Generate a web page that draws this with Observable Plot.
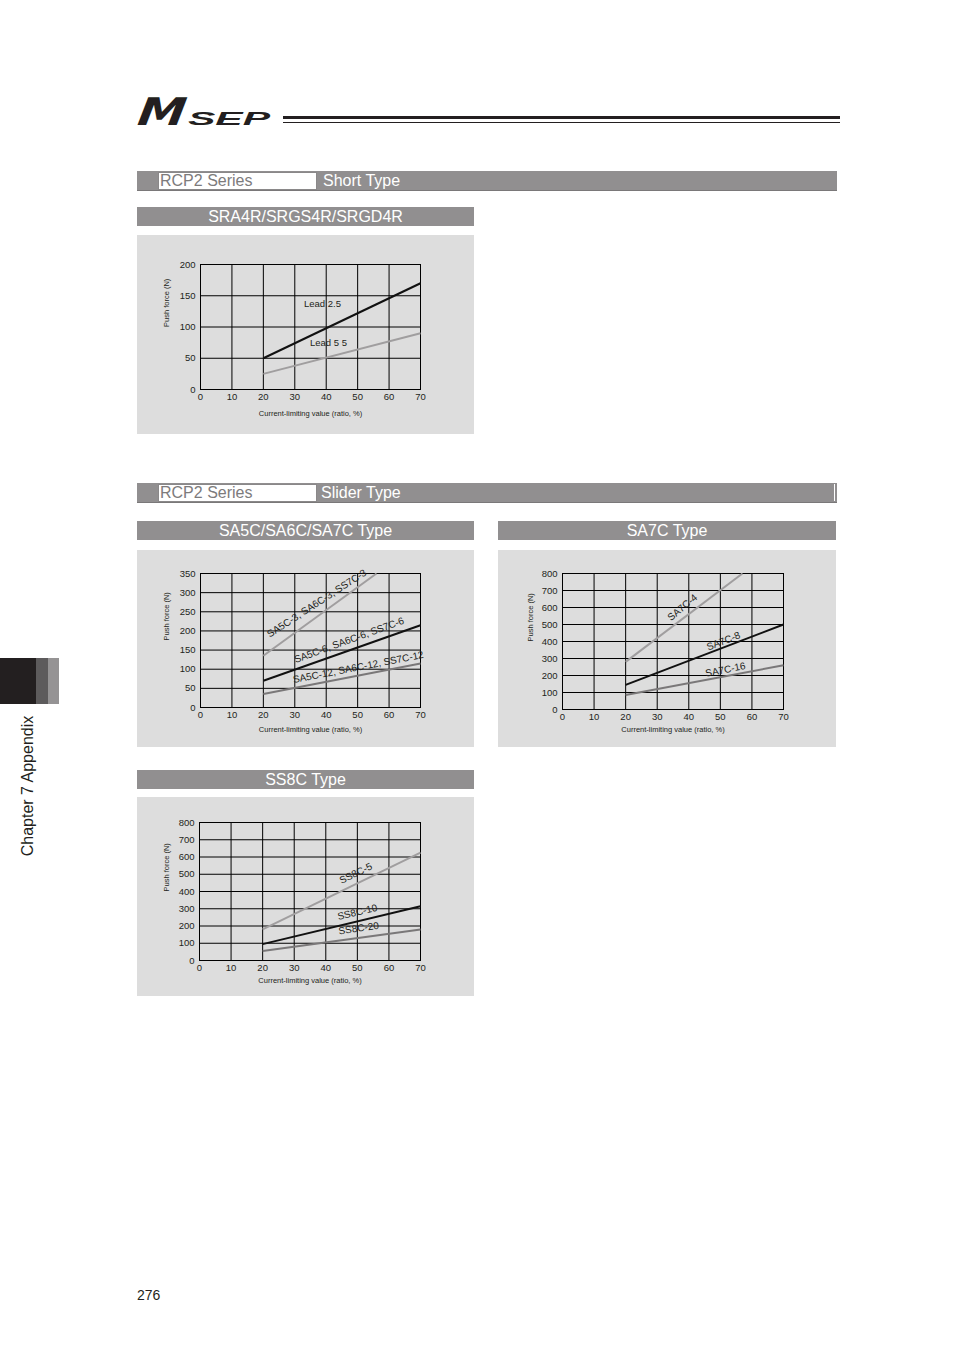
<!DOCTYPE html>
<html>
<head>
<meta charset="utf-8">
<script src="https://cdn.jsdelivr.net/npm/d3@7"></script>
<script src="https://cdn.jsdelivr.net/npm/@observablehq/plot@0.6"></script>
<style>
  html, body { margin: 0; padding: 0; background: #fff; }
  #page { position: relative; width: 954px; height: 1350px; font-family: "Liberation Sans", Arial, sans-serif; color: #231f20; overflow: hidden; }
  .abs { position: absolute; }
  .bar { position: absolute; background: #918f90; border-bottom: 1px solid #7a7879; box-sizing: border-box; }
  .sec-white { position: absolute; background: #fff; border: 1px solid #8a8889; box-sizing: border-box; color: #7d7b7c; font-size: 16px; line-height: 16px; padding-left: 1px; white-space: nowrap; }
  .sec-text { position: absolute; color: #fff; font-size: 16px; line-height: 19px; white-space: nowrap; }
  .sub { position: absolute; background: #918f90; color: #fff; font-size: 16px; line-height: 19px; text-align: center; height: 19px; white-space: nowrap; }
  .chart { position: absolute; }
  .chart svg { display: block; }
</style>
</head>
<body>
<div id="page">
  <!-- logo -->
  <svg class="abs" style="left:0; top:0;" width="954" height="140">
    <text id="logoM" x="137" y="125" font-family="DejaVu Sans" font-weight="bold" font-style="italic" font-size="38" textLength="48" lengthAdjust="spacingAndGlyphs" fill="#231f20" transform="skewX(-8) translate(17,0)"></text>
    <text id="logoS" x="188" y="124.5" font-family="Liberation Sans" font-weight="bold" font-style="italic" font-size="19" textLength="82" lengthAdjust="spacingAndGlyphs" fill="#231f20"></text>
    <rect x="283" y="116" width="557" height="3" fill="#231f20"></rect>
    <rect x="283" y="122" width="557" height="1" fill="#231f20"></rect>
  </svg>

  <!-- section 1 -->
  <div class="bar" style="left:137px; top:171px; width:700px; height:20px;"></div>
  <div class="sec-white" style="left:158px; top:172px; width:159px; height:18px;" id="sec1a"></div>
  <div class="sec-text" style="left:323px; top:171px;" id="sec1b"></div>

  <div class="sub" style="left:137px; top:207px; width:337px;" id="sub1"></div>
  <div class="chart" style="left:137px; top:235px;" id="c1"></div>

  <!-- section 2 -->
  <div class="bar" style="left:137px; top:483px; width:700px; height:20px;"></div>
  <div class="abs" style="left:834px; top:484px; width:1px; height:17px; background:#fff;"></div>
  <div class="sec-white" style="left:158px; top:484px; width:159px; height:18px;" id="sec2a"></div>
  <div class="sec-text" style="left:321px; top:483px;" id="sec2b"></div>

  <div class="sub" style="left:137px; top:521px; width:337px;" id="sub2"></div>
  <div class="sub" style="left:498px; top:521px; width:338px;" id="sub3"></div>
  <div class="chart" style="left:137px; top:550px;" id="c2"></div>
  <div class="chart" style="left:498px; top:550px;" id="c3"></div>

  <div class="sub" style="left:137px; top:770px; width:337px;" id="sub4"></div>
  <div class="chart" style="left:137px; top:797px;" id="c4"></div>

  <!-- side tab -->
  <div class="abs" style="left:0px; top:658px; width:36px; height:46px; background:#231f20;"></div>
  <div class="abs" style="left:36px; top:658px; width:12px; height:46px; background:#5d5b5c;"></div>
  <div class="abs" style="left:48px; top:658px; width:11px; height:46px; background:#959394;"></div>
  <div class="abs" id="sideText" style="left:28px; top:786px; transform: translate(-50%,-50%) rotate(-90deg); font-size:16px; white-space:nowrap;"></div>

  <div class="abs" id="pageNum" style="left:137px; top:1287px; font-size:14px;"></div>
</div>
<script>
// ---- texts ----
const logoMain = "M";
const logoSub = "SEP";
const seriesLabel = "RCP2 Series";
const section1 = "Short Type";
const section2 = "Slider Type";
const subTitles = ["SRA4R/SRGS4R/SRGD4R", "SA5C/SA6C/SA7C Type", "SA7C Type", "SS8C Type"];
const sideText = "Chapter 7 Appendix";
const pageNumber = "276";
const xAxisLabel = "Current-limiting value (ratio, %)";
const yAxisLabel = "Push force (N)";

// ---- ticks ----
const xTicks = [0, 10, 20, 30, 40, 50, 60, 70];
const yTicks200 = [0, 50, 100, 150, 200];
const yTicks350 = [0, 50, 100, 150, 200, 250, 300, 350];
const yTicks800 = [0, 100, 200, 300, 400, 500, 600, 700, 800];

// ---- chart 1: SRA4R/SRGS4R/SRGD4R ----
const c1X = [20, 70];
const lead25 = [50, 170];
const lead55 = [25, 90];
const c1Names = ["Lead 2.5", "Lead 5 5"];
const c1LabelX = [38.8, 40.7];
const c1LabelY = [137, 74];
const c1LabelRot = [0, 0];

// ---- chart 2: SA5C/SA6C/SA7C ----
const sa3X = [20, 56];
const sa3Y = [135, 350];
const sa6X = [20, 70];
const sa6Y = [70, 215];
const sa12X = [20, 70];
const sa12Y = [35, 115];
const c2Names = ["SA5C-3, SA6C-3, SS7C-3", "SA5C-6, SA6C-6, SS7C-6", "SA5C-12, SA6C-12, SS7C-12"];
const c2LabelX = [37.0, 47.3, 50.2];
const c2LabelY = [272, 176, 105];
const c2LabelRot = [-33, -20, -11];

// ---- chart 3: SA7C ----
const a4X = [20, 57];
const a4Y = [280, 800];
const a8X = [20, 70];
const a8Y = [145, 500];
const a16X = [20, 70];
const a16Y = [85, 260];
const c3Names = ["SA7C-4", "SA7C-8", "SA7C-16"];
const c3LabelX = [38.0, 51, 51.6];
const c3LabelY = [600, 402, 234];
const c3LabelRot = [-40, -21, -11];

// ---- chart 4: SS8C ----
const s5X = [20, 70];
const s5Y = [180, 625];
const s10X = [20, 70];
const s10Y = [95, 315];
const s20X = [20, 70];
const s20Y = [55, 180];
const c4Names = ["SS8C-5", "SS8C-10", "SS8C-20"];
const c4LabelX = [49.5, 50, 50.4];
const c4LabelY = [505, 280, 186];
const c4LabelRot = [-26, -13.5, -8];

// ---- fill texts ----
document.getElementById("logoM").textContent = logoMain;
document.getElementById("logoS").textContent = logoSub;
document.getElementById("sec1a").textContent = seriesLabel;
document.getElementById("sec1b").textContent = section1;
document.getElementById("sec2a").textContent = seriesLabel;
document.getElementById("sec2b").textContent = section2;
["sub1","sub2","sub3","sub4"].forEach((id, i) => document.getElementById(id).textContent = subTitles[i]);
document.getElementById("sideText").textContent = sideText;
document.getElementById("pageNum").textContent = pageNumber;

const LIGHT = "#a09e9f", MID = "#7a7879", DARK = "#111111";
const zip = (xs, ys) => xs.map((x, i) => ({x, y: ys[i]}));
const labelRows = (names, xs, ys, rs) => names.map((t, i) => ({t, x: xs[i], y: ys[i], r: rs[i]}));

function makeChart(o) {
  return Plot.plot({
    width: o.width, height: o.height,
    marginTop: o.mt, marginBottom: o.mb, marginLeft: o.ml, marginRight: o.mr,
    style: {background: "#dddddd", fontFamily: "'Liberation Sans', Arial, sans-serif", color: "#231f20", overflow: "visible"},
    x: {domain: [0, 70]},
    y: {domain: [0, o.yMax]},
    marks: [
      Plot.gridX(xTicks, {stroke: "#000", strokeOpacity: 1, strokeWidth: 1}),
      Plot.gridY(o.yTicks, {stroke: "#000", strokeOpacity: 1, strokeWidth: 1}),
      Plot.frame({stroke: "#000", strokeWidth: 1}),
      ...o.series.map(s => Plot.line(s.data, {x: "x", y: "y", stroke: s.color, strokeWidth: 2, strokeLinecap: "butt"})),
      Plot.axisX(xTicks, {tickSize: 0, tickPadding: 4, fontSize: 9.5, label: null, fill: "#231f20"}),
      Plot.axisY(o.yTicks, {tickSize: 0, tickPadding: 5, fontSize: 9.5, label: null, fill: "#231f20"}),
      Plot.text([xAxisLabel], {text: d => d, frameAnchor: "bottom", dy: o.xlDy, fontSize: 7.5, fill: "#231f20"}),
      Plot.text([yAxisLabel], {text: d => d, frameAnchor: "left", dx: o.ylDx, rotate: -90, fontSize: 7.5, fill: "#231f20"}),
      Plot.text(o.labels, {x: "x", y: "y", text: "t", rotate: "r", fontSize: o.lf, fill: "#231f20"})
    ]
  });
}

document.getElementById("c1").append(makeChart({
  width: 337, height: 199, mt: 29, mb: 45, ml: 63, mr: 54, yMax: 200, yTicks: yTicks200, xlDy: 26, ylDx: -34, lf: 9.5,
  series: [{data: zip(c1X, lead25), color: DARK}, {data: zip(c1X, lead55), color: LIGHT}],
  labels: labelRows(c1Names, c1LabelX, c1LabelY, c1LabelRot)
}));

document.getElementById("c2").append(makeChart({
  width: 337, height: 197, mt: 23, mb: 40, ml: 63, mr: 54, yMax: 350, yTicks: yTicks350, xlDy: 24, ylDx: -34, lf: 10,
  series: [{data: zip(sa3X, sa3Y), color: LIGHT}, {data: zip(sa6X, sa6Y), color: DARK}, {data: zip(sa12X, sa12Y), color: MID}],
  labels: labelRows(c2Names, c2LabelX, c2LabelY, c2LabelRot)
}));

document.getElementById("c3").append(makeChart({
  width: 338, height: 197, mt: 23, mb: 38, ml: 64, mr: 53, yMax: 800, yTicks: yTicks800, xlDy: 22, ylDx: -32, lf: 10,
  series: [{data: zip(a4X, a4Y), color: LIGHT}, {data: zip(a8X, a8Y), color: DARK}, {data: zip(a16X, a16Y), color: MID}],
  labels: labelRows(c3Names, c3LabelX, c3LabelY, c3LabelRot)
}));

document.getElementById("c4").append(makeChart({
  width: 337, height: 199, mt: 25, mb: 36, ml: 62, mr: 54, yMax: 800, yTicks: yTicks800, xlDy: 22, ylDx: -33, lf: 10,
  series: [{data: zip(s5X, s5Y), color: LIGHT}, {data: zip(s10X, s10Y), color: DARK}, {data: zip(s20X, s20Y), color: MID}],
  labels: labelRows(c4Names, c4LabelX, c4LabelY, c4LabelRot)
}));
</script>
</body>
</html>
